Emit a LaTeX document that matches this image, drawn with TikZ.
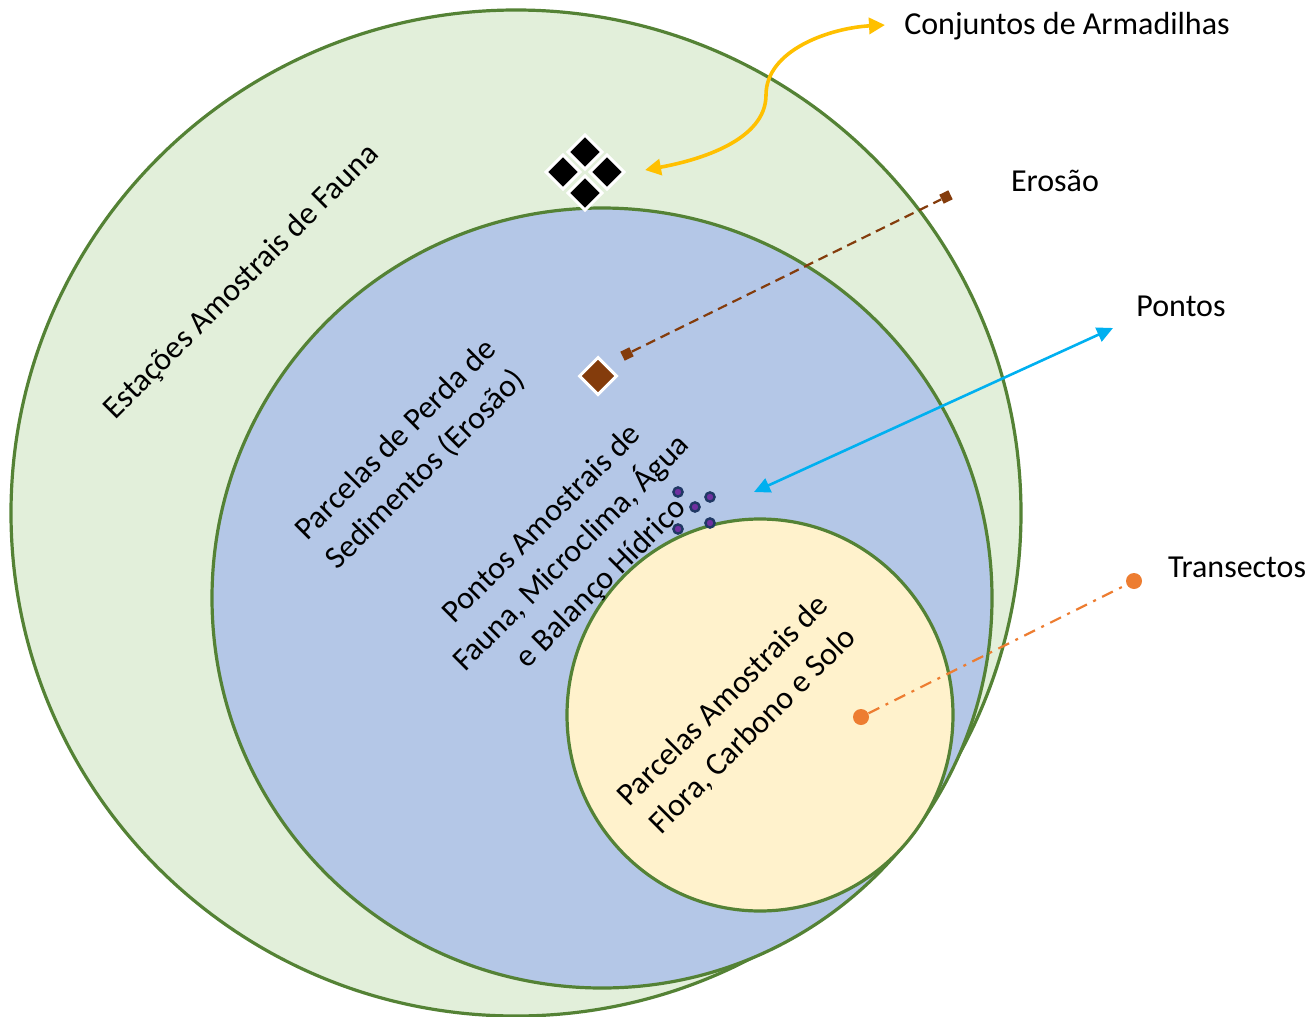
\documentclass[tikz,border=0pt]{standalone}
\usepackage{fontspec}
\setmainfont{Carlito}
\usetikzlibrary{arrows.meta,shapes.geometric}
\definecolor{gline}{HTML}{548235}
\definecolor{gfill}{HTML}{E2EFDA}
\definecolor{bfill}{HTML}{B4C7E7}
\definecolor{yfill}{HTML}{FFF2CC}
\definecolor{brown}{HTML}{843C0C}
\definecolor{gold}{HTML}{FFC000}
\definecolor{sky}{HTML}{00B0F0}
\definecolor{orng}{HTML}{ED7D31}
\definecolor{purp}{HTML}{7030A0}
\definecolor{navy}{HTML}{203864}
\tikzset{
  zone/.style={ellipse, draw=gline, line width=1.6pt, inner sep=0pt},
  lbl/.style={font=\fontsize{16}{21}\selectfont, align=center, inner sep=0pt},
  rlbl/.style={lbl, rotate=45},
  trap/.style={rectangle, rotate=45, fill=black, draw=white, line width=1.5pt, minimum size=12pt, inner sep=0pt},
  erobox/.style={rectangle, rotate=45, fill=brown, draw=white, line width=1.5pt, minimum size=13pt, inner sep=0pt},
  eromark/.style={rectangle, rotate=26, fill=brown, minimum size=5pt, inner sep=0pt},
  pdot/.style={circle, fill=purp, draw=navy, line width=1.2pt, minimum size=4.6pt, inner sep=0pt},
  odot/.style={circle, fill=orng, minimum size=8pt, inner sep=0pt},
}
\begin{document}
\begin{tikzpicture}[x=0.5pt,y=-0.5pt]
\useasboundingbox (0,0) rectangle (1312,1017);
% zones
\node[zone, fill=gfill, minimum width=505pt, minimum height=503pt] (outer) at (516,513) {};
\node[zone, fill=bfill, minimum width=390pt, minimum height=390pt] (blue) at (602,598) {};
\node[zone, fill=yfill, minimum width=193pt, minimum height=196pt] (yellow) at (760,715) {};
% zone labels
\node[rlbl] (tfauna) at (242,282) {Estações Amostrais de Fauna};
\node[rlbl] (tperda) at (411,455) {Parcelas de Perda de\\Sedimentos (Erosão)};
\node[rlbl] (tpontos) at (572,554) {Pontos Amostrais de\\Fauna, Microclima, Água\\e Balanço Hídrico};
\node[rlbl] (tflora) at (738,716) {Parcelas Amostrais de\\Flora, Carbono e Solo};
% traps
\node[trap] (d1) at (585,152) {};
\node[trap] (d2) at (563,172) {};
\node[trap] (d3) at (607,172) {};
\node[trap] (d4) at (585,193) {};
% erosion plot
\node[erobox] (ero) at (598,376) {};
% points
\node[pdot] (p1) at (678,492) {};
\node[pdot] (p2) at (710,497) {};
\node[pdot] (p3) at (695,507) {};
\node[pdot] (p4) at (678,529) {};
\node[pdot] (p5) at (710,523) {};
% legend labels
\node[lbl] (lconj) at (1067,26) {Conjuntos de Armadilhas};
\node[lbl] (lero) at (1055,181) {Erosão};
\node[lbl] (lpon) at (1181,306) {Pontos};
\node[lbl] (ltra) at (1237,567) {Transectos};
% connectors
\coordinate (ya) at (645,170);
\coordinate (yb) at (885,25);
\draw[gold, line width=1.8pt, {Triangle[length=8pt,width=8pt]}-{Triangle[length=8pt,width=8pt]}]
  (ya) .. controls (700,160) and (766,140) .. (766,95)
       .. controls (766,50) and (830,28) .. (yb);
\node[eromark] (e1) at (627,354) {};
\node[eromark] (e2) at (946,197) {};
\draw[brown, line width=1.1pt, dash pattern=on 5pt off 3pt] (e1) -- (e2);
\coordinate (ba) at (754,492);
\coordinate (bb) at (1113,328);
\draw[sky, line width=1.3pt, {Triangle[length=8pt,width=7.5pt]}-{Triangle[length=8pt,width=7.5pt]}] (ba) -- (bb);
\node[odot] (o1) at (861,717) {};
\node[odot] (o2) at (1134,581) {};
\draw[orng, line width=1.1pt, dash pattern=on 6pt off 3.5pt on 1.5pt off 3.5pt] (o1) -- (o2);
\end{tikzpicture}
\end{document}
